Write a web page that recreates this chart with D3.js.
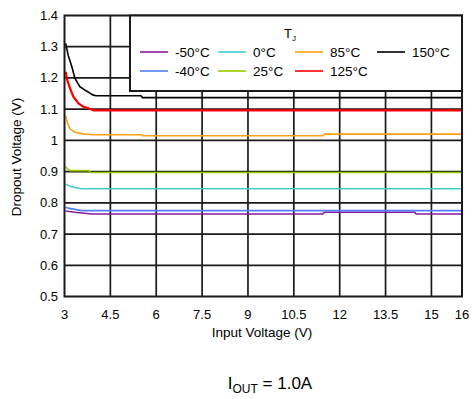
<!DOCTYPE html>
<html><head><meta charset="utf-8">
<script src="https://cdn.jsdelivr.net/npm/d3@7"></script>
<style>
html,body{margin:0;padding:0;background:#fff;}
svg{display:block;font-family:Arial,"Liberation Sans",sans-serif;}
</style></head>
<body><svg id="c" width="474" height="399"></svg>
<script>
const xTicks = [3, 4.5, 6, 7.5, 9, 10.5, 12, 13.5, 15, 16];
const yTicks = [0.5, 0.6, 0.7, 0.8, 0.9, 1, 1.1, 1.2, 1.3, 1.4];
const seriesNames = ["-50°C", "-40°C", "0°C", "25°C", "85°C", "125°C", "150°C"];
const seriesColors = ["#8b1a9b", "#4f7fff", "#44cccc", "#99cc00", "#ffa010", "#ff0000", "#000000"];
const xM50 = [3.04, 3.34, 3.89, 11.45, 11.5, 14.45, 14.5, 16];
const yM50 = [0.774, 0.770, 0.764, 0.764, 0.770, 0.770, 0.764, 0.764];
const xM40 = [3.04, 3.12, 3.34, 3.56, 16];
const yM40 = [0.786, 0.783, 0.779, 0.775, 0.775];
const x0 = [3.04, 3.16, 3.34, 3.56, 16];
const y0 = [0.860, 0.854, 0.849, 0.845, 0.845];
const x25 = [3.04, 3.09, 3.18, 3.8, 3.85, 16];
const y25 = [0.916, 0.909, 0.903, 0.903, 0.897, 0.897];
const x85 = [3.04, 3.09, 3.18, 3.34, 3.61, 3.94, 5.5, 5.55, 11.45, 11.5, 16];
const y85 = [1.079, 1.058, 1.037, 1.026, 1.021, 1.018, 1.018, 1.015, 1.015, 1.020, 1.020];
const x125 = [3.04, 3.09, 3.18, 3.29, 3.45, 3.61, 3.78, 3.95, 16];
const y125 = [1.220, 1.193, 1.167, 1.140, 1.119, 1.108, 1.103, 1.096, 1.096];
const x150 = [3.04, 3.06, 3.12, 3.24, 3.34, 3.5, 3.72, 3.94, 4.05, 5.5, 5.55, 16];
const y150 = [1.311, 1.300, 1.273, 1.236, 1.199, 1.172, 1.158, 1.145, 1.143, 1.143, 1.137, 1.137];
const xs = [xM50, xM40, x0, x25, x85, x125, x150];
const ys = [yM50, yM40, y0, y25, y85, y125, y150];

const svg = d3.select("#c");
const L = 64.5, R = 462, T = 15.5, B = 296.5;
const x = d3.scaleLinear().domain([3, 16]).range([L, R]);
const y = d3.scaleLinear().domain([0.5, 1.4]).range([B, T]);

// grid
const g = svg.append("g");
g.selectAll("line.v").data(xTicks.filter(d => d > 3 && d < 16)).join("line")
  .attr("x1", d => x(d)).attr("x2", d => x(d)).attr("y1", T).attr("y2", B)
  .attr("stroke", "#1a1a1a").attr("stroke-width", 1.7);
g.selectAll("line.h").data(yTicks.filter(d => d > 0.5 && d < 1.4)).join("line")
  .attr("x1", L).attr("x2", R).attr("y1", d => y(d)).attr("y2", d => y(d))
  .attr("stroke", "#1a1a1a").attr("stroke-width", 1.7);

// series
const line = d3.line().x(d => x(d[0])).y(d => y(d[1]));
xs.forEach((xa, i) => {
  const pts = xa.map((v, j) => [v, ys[i][j]]);
  svg.append("path").attr("d", line(pts)).attr("fill", "none")
    .attr("stroke", seriesColors[i]).attr("stroke-width", i === 5 ? 2.2 : 1.6);
});

// frame
svg.append("rect").attr("x", L).attr("y", T).attr("width", R - L).attr("height", B - T)
  .attr("fill", "none").attr("stroke", "#1a1a1a").attr("stroke-width", 2);

// legend
const lg = svg.append("g");
lg.append("rect").attr("x", 130).attr("y", T).attr("width", R - 130).attr("height", 91 - T)
  .attr("fill", "#fff").attr("stroke", "#1a1a1a").attr("stroke-width", 2);
const tj = lg.append("text").attr("x", 290).attr("y", 38).attr("text-anchor", "middle")
  .attr("font-size", 13).attr("fill", "#000");
tj.append("tspan").text("T");
tj.append("tspan").attr("font-size", 8).attr("dy", 3).text("J");
const colX = [140, 218, 295, 377];
const rowY = [52, 71];
const order = [[0, 0, 0], [1, 0, 1], [2, 1, 0], [3, 1, 1], [4, 2, 0], [5, 2, 1], [6, 3, 0]];
order.forEach(([i, c, r]) => {
  lg.append("line").attr("x1", colX[c]).attr("x2", colX[c] + 28)
    .attr("y1", rowY[r]).attr("y2", rowY[r]).attr("stroke", seriesColors[i]).attr("stroke-width", 1.6);
  lg.append("text").attr("x", colX[c] + 35).attr("y", rowY[r] + 5)
    .attr("font-size", 13.5).attr("fill", "#000").text(seriesNames[i]);
});

// tick labels
svg.selectAll("text.yt").data(yTicks).join("text")
  .attr("x", 58).attr("y", d => y(d) + 4.5).attr("text-anchor", "end")
  .attr("font-size", 13).attr("fill", "#000").text(d => d3.format("")(d));
svg.selectAll("text.xt").data(xTicks).join("text")
  .attr("x", d => x(d)).attr("y", 319).attr("text-anchor", "middle")
  .attr("font-size", 13).attr("fill", "#000").text(d => d);

// axis titles
svg.append("text").attr("x", 262).attr("y", 337).attr("text-anchor", "middle")
  .attr("font-size", 13.5).attr("fill", "#000").text("Input Voltage (V)");
svg.append("text").attr("transform", "translate(21,157) rotate(-90)").attr("text-anchor", "middle")
  .attr("font-size", 13.5).attr("fill", "#000").text("Dropout Voltage (V)");

// caption
const cap = svg.append("text").attr("x", 270).attr("y", 389).attr("text-anchor", "middle")
  .attr("font-size", 17).attr("fill", "#000");
cap.append("tspan").text("I");
cap.append("tspan").attr("font-size", 12).attr("dy", 4).text("OUT");
cap.append("tspan").attr("dy", -4).text(" = 1.0A");
</script></body></html>
